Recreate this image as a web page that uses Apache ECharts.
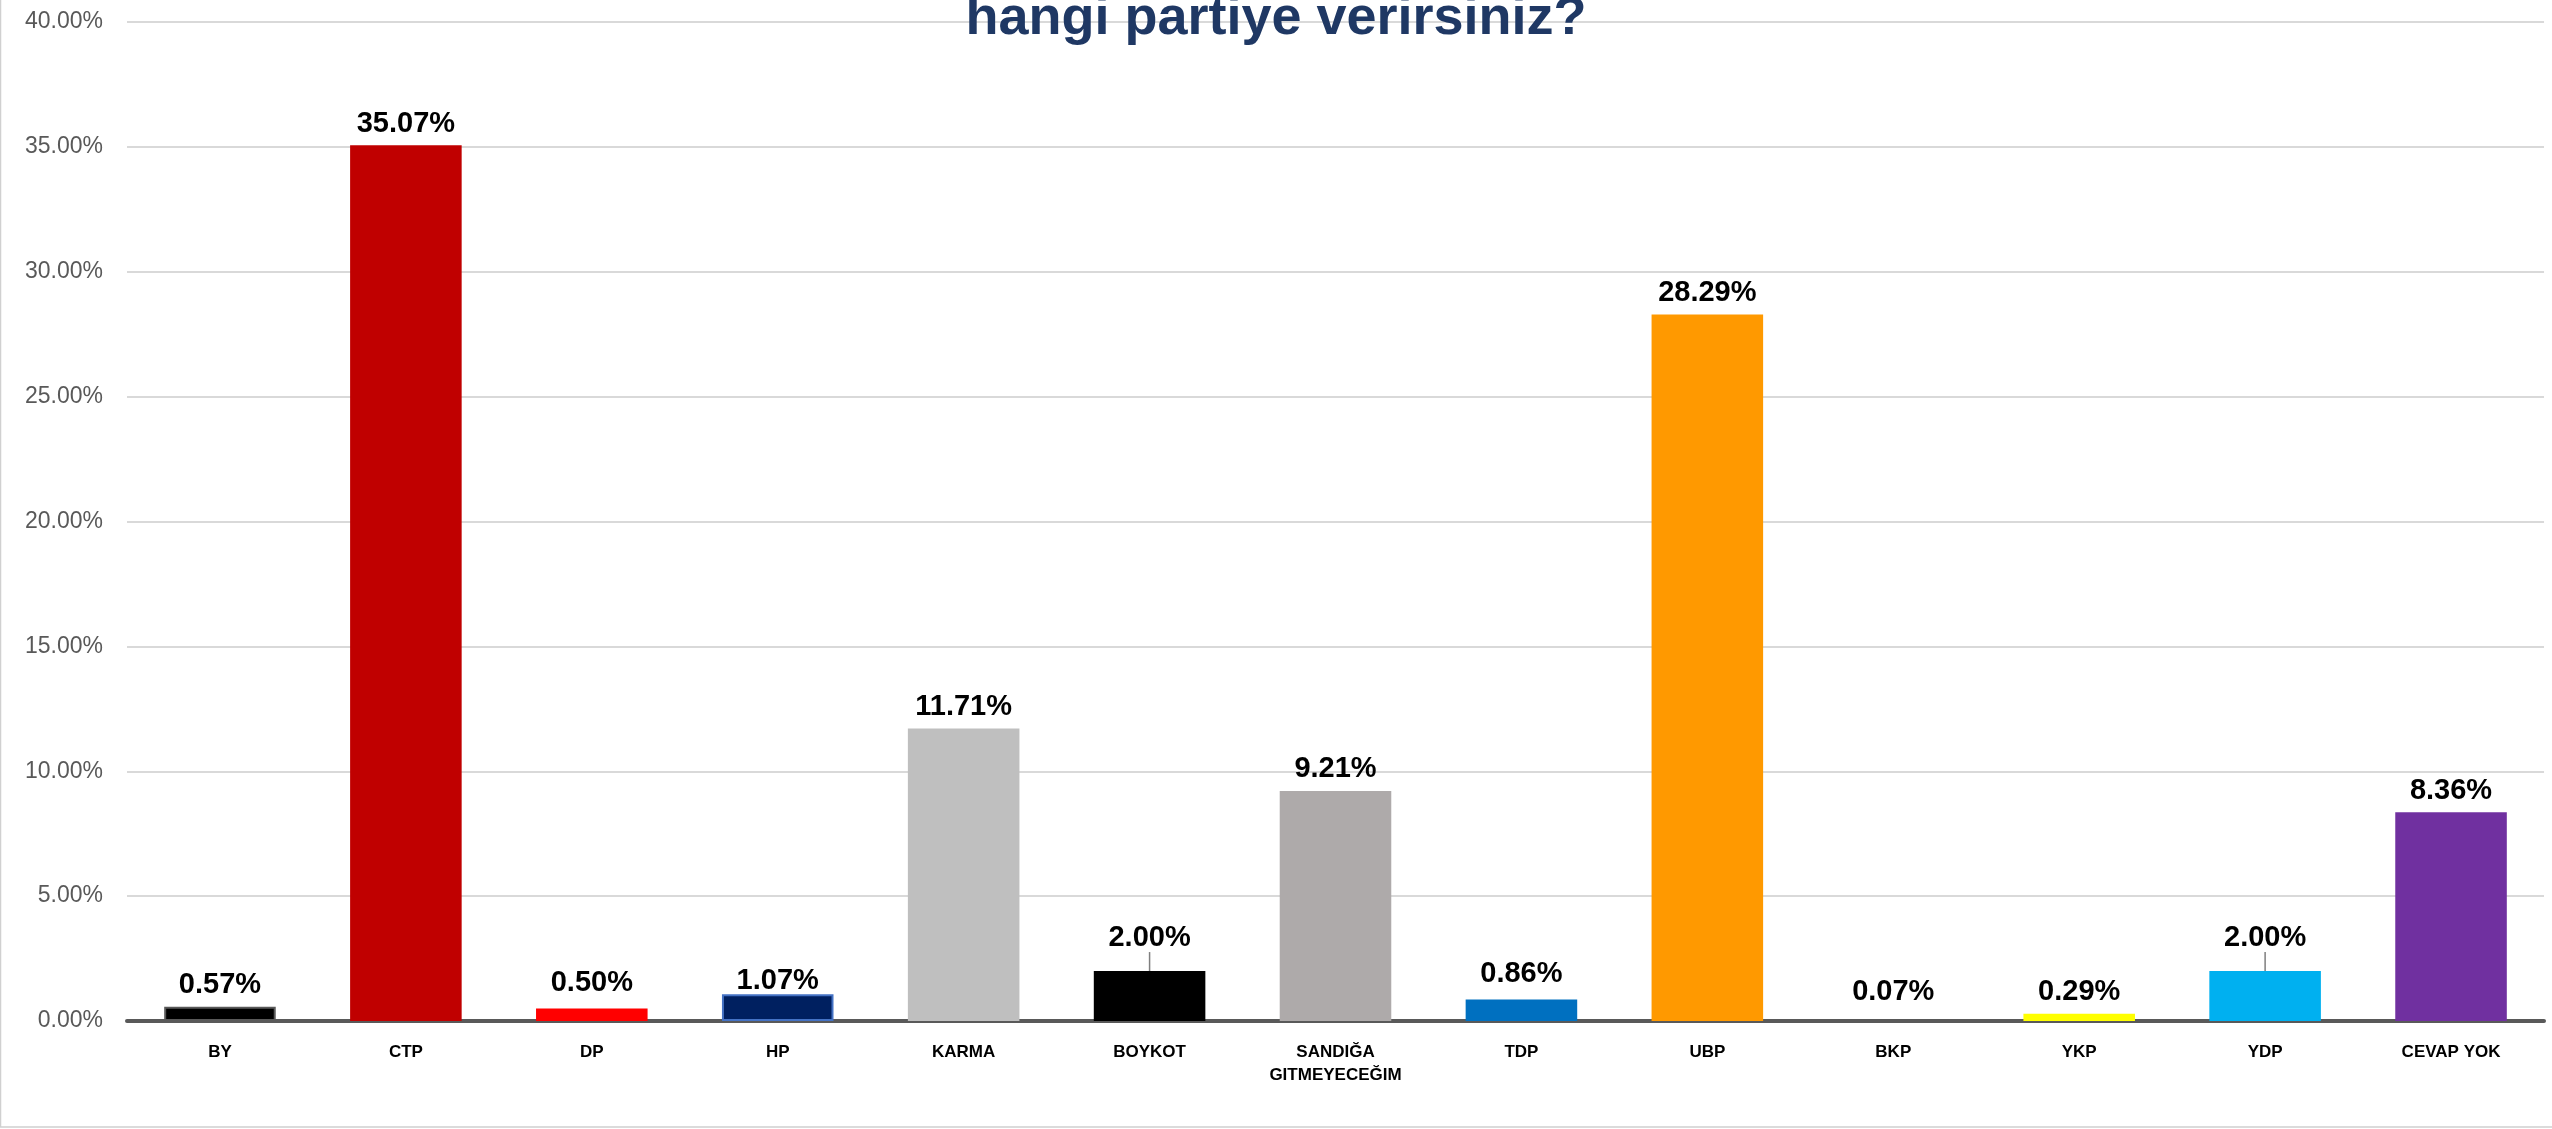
<!DOCTYPE html>
<html>
<head>
<meta charset="utf-8">
<script src="https://cdn.jsdelivr.net/npm/echarts@6/dist/echarts.min.js"></script>
<style>html,body{margin:0;padding:0;background:#fff;}#c{width:2552px;height:1129px;}</style>
</head>
<body>
<div id="c"></div>
<script>
const titleText = 'hangi partiye verirsiniz?';
const categories = ['BY','CTP','DP','HP','KARMA','BOYKOT','SANDIĞA\nGITMEYECEĞIM','TDP','UBP','BKP','YKP','YDP','CEVAP YOK'];
const values = [0.57, 35.07, 0.50, 1.07, 11.71, 2.00, 9.21, 0.86, 28.29, 0.07, 0.29, 2.00, 8.36];
const yTicks = [0, 5, 10, 15, 20, 25, 30, 35, 40];

// styling (kept apart from data)
const barColors = ['#000000','#C00000','#FF0000','#002060','#BFBFBF','#000000','#AEAAAA','#0070C0','#FF9900','#595959','#FFFF00','#00B0F0','#7030A0'];
const barBorders = {0:['#595959',2], 3:['#4472C4',2]};
const labelShift = {3:8, 2:-4, 7:-4, 9:-6, 5:-12, 11:-12};
const labelLined = {5:true, 11:true};

const chart = echarts.init(document.getElementById('c'));
const font = '"Liberation Sans", Arial, sans-serif';

chart.setOption({
  animation: false,
  backgroundColor: '#ffffff',
  title: {
    text: titleText, left: 'center', top: -13,
    textStyle: {fontFamily: font, fontSize: 54, fontWeight: 'bold', color: '#1F3864'}
  },
  graphic: [{
    type: 'rect', silent: true, z: -1,
    shape: {x: 0.5, y: -10, width: 2600, height: 1137},
    style: {fill: 'none', stroke: '#d0d0d0', lineWidth: 1.5}
  }],
  grid: {left: 127, right: 8, top: 22, bottom: 108, containLabel: false},
  xAxis: {
    type: 'category', data: categories,
    axisLine: {show: true, lineStyle: {color: '#595959', width: 4}},
    axisTick: {show: false},
    axisLabel: {fontFamily: font, fontSize: 17, fontWeight: 'bold', color: '#000', margin: 20, lineHeight: 23, interval: 0}
  },
  yAxis: {
    type: 'value', min: yTicks[0], max: yTicks[yTicks.length - 1], interval: yTicks[1] - yTicks[0],
    axisLine: {show: false}, axisTick: {show: false},
    axisLabel: {fontFamily: font, fontSize: 23, color: '#595959', margin: 24, formatter: v => v.toFixed(2) + '%'},
    splitLine: {lineStyle: {color: '#d9d9d9', width: 2}}
  },
  series: [{
    type: 'bar', barWidth: '60%',
    data: values.map((v, i) => ({
      value: v,
      itemStyle: {
        color: barColors[i],
        borderColor: barBorders[i] ? barBorders[i][0] : barColors[i],
        borderWidth: barBorders[i] ? barBorders[i][1] : 0
      },
      labelLine: {show: !!labelLined[i], lineStyle: {color: '#7f7f7f', width: 1.5}}
    })),
    label: {
      show: true, position: 'top', distance: 7,
      fontFamily: font, fontSize: 29, fontWeight: 'bold', color: '#000',
      formatter: p => p.value.toFixed(2) + '%'
    },
    labelLayout: p => ({dy: labelShift[p.dataIndex] || 0}),
    labelLine: {show: false}
  }]
});
</script>
</body>
</html>
